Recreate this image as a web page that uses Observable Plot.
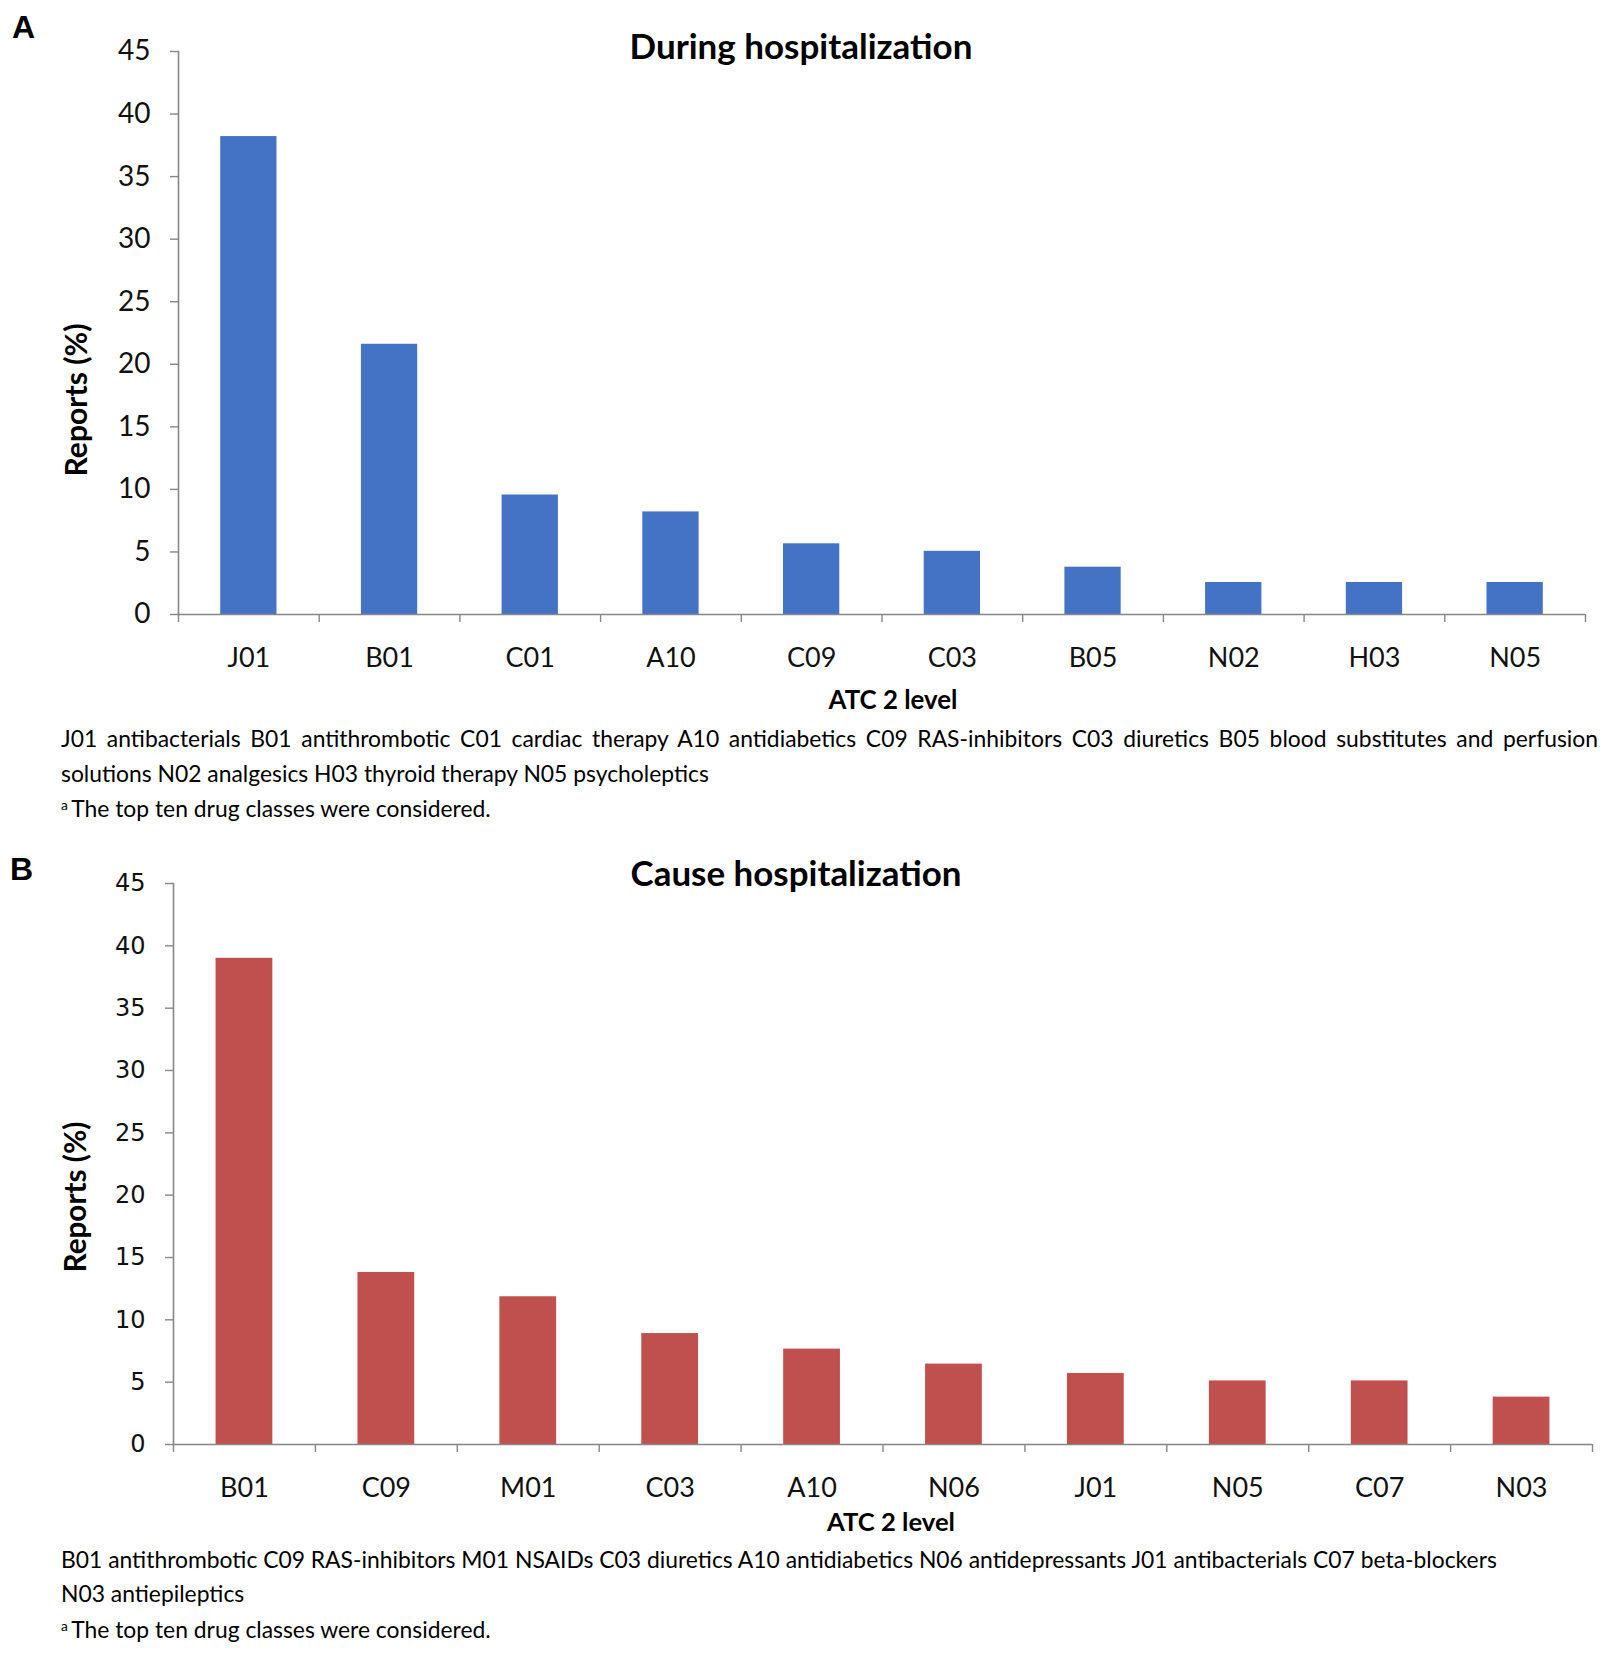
<!DOCTYPE html>
<html><head><meta charset="utf-8">
<script src="https://cdn.jsdelivr.net/npm/d3@7"></script>
<script src="https://cdn.jsdelivr.net/npm/@observablehq/plot@0.6"></script>
<style>
body{margin:0;background:#fff;}
#root{position:relative;width:1619px;height:1675px;font-family:Lato,sans-serif;color:#000;overflow:hidden;}
.abs{position:absolute;white-space:nowrap;line-height:1;}
.c{transform:translate(-50%,-50%);}
.letter{font-family:"Liberation Sans",Arial,sans-serif;font-weight:bold;font-size:32px;}
.b{font-weight:bold;}
.rot{transform:translate(-50%,-50%) rotate(-90deg);}
.cap{font-size:22px;transform:translateY(-50%);}
.plot{position:absolute;left:0;}
sup{font-size:0.6em;vertical-align:0.5em;line-height:0;margin-right:0.25em;}
</style>
</head><body>
<div id="root"></div>
<script>
// ---------- data ----------
const catsA = ["J01","B01","C01","A10","C09","C03","B05","N02","H03","N05"];
const valsA = [38.2, 21.6, 9.55, 8.2, 5.65, 5.05, 3.78, 2.56, 2.56, 2.56];
const catsB = ["B01","C09","M01","C03","A10","N06","J01","N05","C07","N03"];
const valsB = [39.0, 13.8, 11.85, 8.9, 7.65, 6.45, 5.7, 5.1, 5.1, 3.8];
const yTicks = [0,5,10,15,20,25,30,35,40,45];
const titleA = "During hospitalization";
const titleB = "Cause hospitalization";
const yLabel = "Reports (%)";
const xLabel = "ATC 2 level";
const capA = ["J01 antibacterials B01 antithrombotic C01 cardiac therapy A10 antidiabetics C09 RAS-inhibitors C03 diuretics B05 blood substitutes and perfusion",
              "solutions N02 analgesics H03 thyroid therapy N05 psycholeptics"];
const capB = ["B01 antithrombotic C09 RAS-inhibitors M01 NSAIDs C03 diuretics A10 antidiabetics N06 antidepressants J01 antibacterials C07 beta-blockers",
              "N03 antiepileptics"];
const footnote = "The top ten drug classes were considered.";

const root = document.getElementById("root");
const W = 1619;
const AXIS = "#868686";

function el(cls, html, x, y) {
  const d = document.createElement("div");
  d.className = "abs " + cls;
  d.innerHTML = html;
  d.style.left = x + "px"; d.style.top = y + "px";
  root.appendChild(d);
  return d;
}
function fitW(d, target, rotated) {
  const r = d.getBoundingClientRect();
  const cur = rotated ? r.height : r.width;
  const fs = parseFloat(getComputedStyle(d).fontSize);
  d.style.fontSize = (fs * target / cur) + "px";
}

function panel(o) {
  const ml = o.ml, mr = o.mr, mt = o.mt, mb = o.mb;
  const step = (W - ml - mr) / o.cats.length;
  const data = o.cats.map((c, i) => ({cat: c, v: o.vals[i]}));
  const chart = Plot.plot({
    width: W, height: o.height,
    marginLeft: ml, marginRight: mr, marginTop: mt, marginBottom: mb,
    style: {background: "transparent", overflow: "visible"},
    x: {domain: o.cats, paddingInner: 0.6, paddingOuter: 0.3, round: false, axis: null},
    y: {domain: [0, 45], axis: null},
    marks: [
      Plot.barY(data, {x: "cat", y: "v", fill: o.color}),
      Plot.frame({anchor: "left", stroke: AXIS, strokeWidth: 1.6}),
      Plot.ruleY([0], {stroke: AXIS, strokeWidth: 1.6}),
      Plot.axisY({ticks: yTicks, tickSize: 8, tickPadding: o.yPad, stroke: AXIS, fill: "#111",
                  fontSize: o.yFont, fontFamily: o.yFamily, label: null, strokeWidth: 1.4}),
      Plot.axisX({tickSize: 0, tickPadding: o.xPad, fill: "#111", fontSize: o.xFont,
                  fontFamily: "Lato", label: null}),
      Plot.axisX({tickSize: 8, tickFormat: () => "", dx: -step / 2, stroke: AXIS, label: null, strokeWidth: 1.4}),
      Plot.axisX({ticks: [o.cats[o.cats.length - 1]], tickSize: 8, tickFormat: () => "", dx: step / 2,
                  stroke: AXIS, label: null, strokeWidth: 1.4})
    ]
  });
  chart.classList.add("plot");
  chart.style.top = o.top + "px";
  root.appendChild(chart);
}

panel({cats: catsA, vals: valsA, color: "#4472C4", top: 0, height: 720,
       ml: 178, mr: 34, mt: 51, mb: 106, yPad: 20, yFont: 28, yFamily: "Lato", xPad: 33, xFont: 27});
panel({cats: catsB, vals: valsB, color: "#C0504D", top: 780, height: 720,
       ml: 173, mr: 27, mt: 103, mb: 56, yPad: 20, yFont: 24, yFamily: "DejaVu Sans", xPad: 33, xFont: 27});

// panel letters
el("letter c", "A", 23.5, 27);
el("letter c", "B", 21.5, 869);

// titles
const tA = el("b c", titleA, 801, 45); tA.style.fontSize = "32px"; fitW(tA, 343);
const tB = el("b c", titleB, 796, 873); tB.style.fontSize = "32px"; fitW(tB, 331);

// y labels
const yA = el("b rot", yLabel, 75, 400); yA.style.fontSize = "26px"; fitW(yA, 153, true);
const yB = el("b rot", yLabel, 75, 1197); yB.style.fontSize = "26px"; fitW(yB, 151, true);

// x labels
const xA = el("b c", xLabel, 893, 700); xA.style.fontSize = "26px"; fitW(xA, 129);
const xB = el("b c", xLabel, 891, 1522); xB.style.fontSize = "26px"; fitW(xB, 128);

// captions
const b1 = el("cap", capB[0], 61, 1559); fitW(b1, 1436);
const capFs = getComputedStyle(b1).fontSize;
function cap(text, y) { const d = el("cap", text, 61, y); d.style.fontSize = capFs; return d; }
const a1 = cap(capA[0], 738);
{ // justify first line of A
  const nat = a1.getBoundingClientRect().width;
  const spaces = (capA[0].match(/ /g) || []).length;
  a1.style.wordSpacing = ((1537 - nat) / spaces) + "px";
}
cap(capA[1], 773);
cap("<sup>a</sup>" + footnote, 808);
cap(capB[1], 1593);
cap("<sup>a</sup>" + footnote, 1629);
</script>
</body></html>
